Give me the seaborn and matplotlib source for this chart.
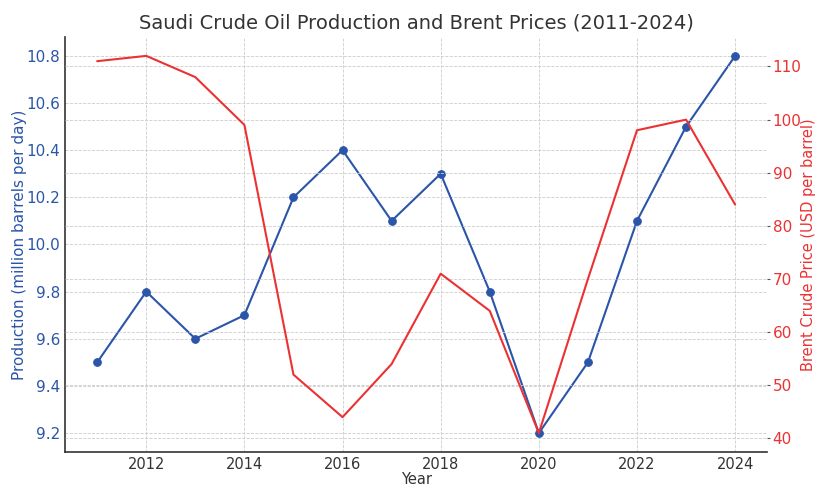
import matplotlib
import matplotlib.pyplot as plt
import pandas as pd
import seaborn as sns

matplotlib.use("Agg")

years = [2011, 2012, 2013, 2014, 2015, 2016, 2017, 2018, 2019, 2020, 2021, 2022, 2023, 2024]
production = [9.5, 9.8, 9.6, 9.7, 10.2, 10.4, 10.1, 10.3, 9.8, 9.2, 9.5, 10.1, 10.5, 10.8]
brent = [111, 112, 108, 99, 52, 44, 54, 71, 64, 41, 70, 98, 100, 84]

df = pd.DataFrame({"Year": years, "Production": production, "Brent": brent})

blue = "#2b55a8"
red = "#ec3132"

sns.set_style("ticks")
plt.rcParams["font.family"] = ["DejaVu Sans"]

fig, ax1 = plt.subplots(figsize=(8.16, 4.87), dpi=100)

sns.lineplot(data=df, x="Year", y="Production", ax=ax1, color=blue,
             marker="o", markersize=5.5, markeredgecolor=blue, linewidth=1.5)
ax1.set_ylabel("Production (million barrels per day)", color=blue, fontsize=11, labelpad=0)
ax1.set_xlabel("Year", color="#333333", fontsize=10.5, labelpad=0)
ax1.tick_params(axis="y", colors=blue, labelsize=11, length=0)
ax1.tick_params(axis="x", colors="#333333", labelsize=10.5, length=0)
ax1.grid(True, linestyle="--", color="#cccccc", linewidth=0.6)

ax2 = ax1.twinx()
sns.lineplot(data=df, x="Year", y="Brent", ax=ax2, color=red, linewidth=1.5)
ax2.set_ylabel("Brent Crude Price (USD per barrel)", color=red, fontsize=10.5, labelpad=0)
ax2.tick_params(axis="y", labelcolor=red, colors="#555555", labelsize=11, length=2.5, pad=1.5)
ax2.grid(True, axis="y", linestyle="--", color="#cccccc", linewidth=0.6)

for ax in (ax1, ax2):
    ax.spines["top"].set_visible(False)
    ax.spines["right"].set_visible(False)
ax2.spines["left"].set_visible(False)
ax2.spines["bottom"].set_visible(False)
for s in ("left", "bottom"):
    ax1.spines[s].set_color("#333333")
    ax1.spines[s].set_linewidth(1.2)

ax1.set_xticks([2012, 2014, 2016, 2018, 2020, 2022, 2024])
ax1.set_title("Saudi Crude Oil Production and Brent Prices (2011-2024)",
              fontsize=14, color="#333333")

fig.subplots_adjust(left=0.080, right=0.940, top=0.924, bottom=0.072)
plt.savefig("out.png", dpi=100)
